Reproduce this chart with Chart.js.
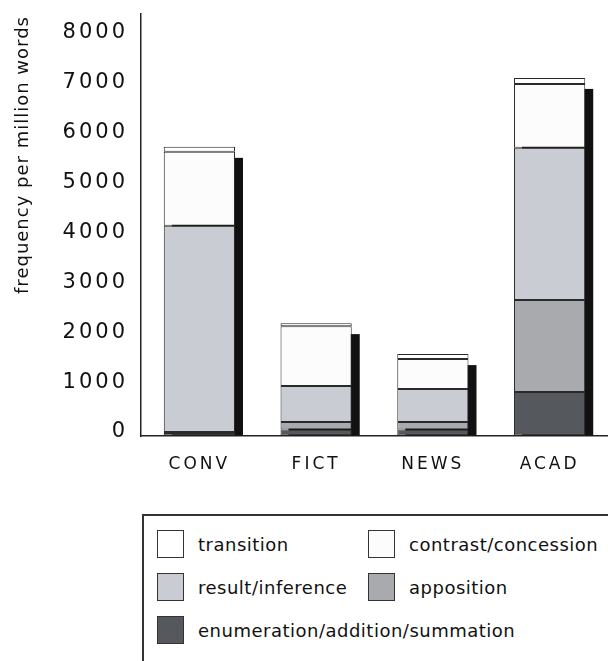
<!DOCTYPE html>
<html>
<head>
<meta charset="utf-8">
<script src="https://cdn.jsdelivr.net/npm/chart.js@4.4.1/dist/chart.umd.min.js"></script>
<style>
  body { margin: 0; width: 608px; height: 661px; overflow: hidden; background: #fff; font-family: "DejaVu Sans", sans-serif; }
  #wrap { position: relative; width: 608px; height: 500px; }
  #legend { position: absolute; left: 142px; top: 514px; width: 480px; height: 170px; border: 2px solid #333; box-sizing: border-box; }
  .item { position: absolute; display: flex; align-items: center; font-size: 18px; letter-spacing: 0.5px; color: #111; white-space: nowrap; }
  .sw { width: 27px; height: 28px; border: 1.5px solid #333; box-sizing: border-box; margin-right: 14px; }
</style>
</head>
<body>
<div id="wrap"><canvas id="chart"></canvas></div>
<div id="legend"></div>
<script>
// 数据
const categories = ['CONV', 'FICT', 'NEWS', 'ACAD'];
const enumeration = [60, 130, 130, 880];
const apposition = [20, 150, 150, 1845];
const resultInference = [4130, 720, 660, 3045];
const contrast = [1480, 1200, 600, 1280];
const transition = [100, 60, 100, 120];
const yTicks = [0, 1000, 2000, 3000, 4000, 5000, 6000, 7000, 8000];
const yTitle = 'frequency per million words';

// 堆叠顺序：从下往上
const datasets = [
    { label: 'enumeration/addition/summation', data: enumeration, backgroundColor: '#55585c' },
    { label: 'apposition', data: apposition, backgroundColor: '#a8aaae' },
    { label: 'result/inference', data: resultInference, backgroundColor: '#c9ccd3' },
    { label: 'contrast/concession', data: contrast, backgroundColor: '#fcfcfc' },
    { label: 'transition', data: transition, backgroundColor: '#ffffff' }
].map(d => Object.assign(d, {
    borderColor: '#2a2a2a',
    borderWidth: 1,
    borderSkipped: false,
    categoryPercentage: 0.61,
    barPercentage: 1
}));

// 文字稍微拉宽一点
const spacingPlugin = {
    id: 'spacing',
    beforeDraw(chart) { chart.ctx.letterSpacing = '3px'; }
};

// 柱子右侧的黑色阴影
const shadowPlugin = {
    id: 'shadow',
    beforeDatasetsDraw(chart) {
        const ctx = chart.ctx;
        const topBars = chart.getDatasetMeta(chart.data.datasets.length - 1).data;
        const baseBars = chart.getDatasetMeta(0).data;
        ctx.save();
        ctx.fillStyle = '#111';
        topBars.forEach((bar, i) => {
            const base = baseBars[i].base;
            ctx.fillRect(bar.x - bar.width / 2 + 8, bar.y + 11, bar.width, base - bar.y - 11);
        });
        ctx.restore();
    }
};

// 纵轴标题
const titlePlugin = {
    id: 'ytitle',
    afterDraw(chart) {
        const ctx = chart.ctx;
        ctx.save();
        ctx.letterSpacing = '1px';
        ctx.translate(23, 155);
        ctx.rotate(-Math.PI / 2);
        ctx.font = '18px "DejaVu Sans"';
        ctx.fillStyle = '#111';
        ctx.textAlign = 'center';
        ctx.textBaseline = 'middle';
        ctx.fillText(yTitle, 0, 0);
        ctx.restore();
    }
};

const ctx = document.getElementById('chart').getContext('2d');
const chart = new Chart(ctx, {
    type: 'bar',
    data: { labels: categories, datasets: datasets },
    options: {
        responsive: true,
        maintainAspectRatio: false,
        animation: false,
        layout: { padding: { top: 14, left: 0, right: 0, bottom: 0 } },
        scales: {
            x: {
                stacked: true,
                grid: { display: true, color: 'transparent', drawTicks: false },
                border: { display: true, color: '#222', width: 1.5 },
                ticks: { color: '#111', font: { family: 'DejaVu Sans', size: 17 }, padding: 18 },
                afterFit(scale) { scale.height = 64; }
            },
            y: {
                stacked: true,
                min: 0,
                max: 8450,
                grid: { display: true, color: 'transparent', drawTicks: false },
                border: { display: true, color: '#222', width: 1.5 },
                ticks: {
                    color: '#111',
                    font: { family: 'DejaVu Sans', size: 21 },
                    padding: 13,
                    labelOffset: -4,
                    callback: v => String(v)
                },
                afterBuildTicks(scale) { scale.ticks = yTicks.map(v => ({ value: v })); },
                afterFit(scale) {
                    scale.width = 141;
                    scale.paddingTop = 0;
                    scale.paddingBottom = 0;
                }
            }
        },
        plugins: {
            legend: { display: false },
            tooltip: { enabled: false }
        }
    },
    plugins: [spacingPlugin, shadowPlugin, titlePlugin]
});

// 图例（两列）
const legendPos = [
    [157, 530], [368, 530],
    [157, 573], [368, 573],
    [157, 616]
];
const legendEl = document.getElementById('legend');
chart.data.datasets.slice().reverse().forEach((ds, i) => {
    const item = document.createElement('div');
    item.className = 'item';
    item.style.left = (legendPos[i][0] - 144) + 'px';
    item.style.top = (legendPos[i][1] - 516) + 'px';
    const sw = document.createElement('div');
    sw.className = 'sw';
    sw.style.background = ds.backgroundColor;
    const txt = document.createElement('span');
    txt.textContent = ds.label;
    item.appendChild(sw);
    item.appendChild(txt);
    legendEl.appendChild(item);
});
</script>
</body>
</html>
